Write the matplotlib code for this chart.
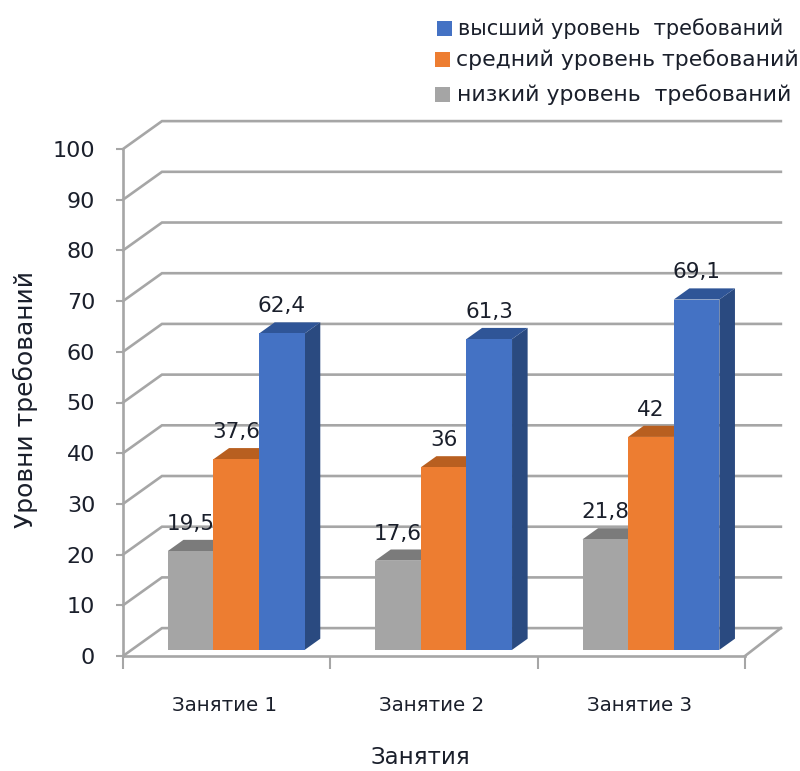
import numpy as np
from matplotlib import pyplot as plt
from matplotlib.patches import Polygon, Rectangle

categories = ['Занятие 1', 'Занятие 2', 'Занятие 3']
low_values = [19.5, 17.6, 21.8]
mid_values = [37.6, 36, 42]
high_values = [62.4, 61.3, 69.1]
low_labels = ['19,5', '17,6', '21,8']
mid_labels = ['37,6', '36', '42']
high_labels = ['62,4', '61,3', '69,1']
y_ticks = list(range(0, 101, 10))
legend_labels = ['высший уровень  требований', 'средний уровень требований', 'низкий уровень  требований']

GRID = '#a6a6a6'
TEXT = '#1a1f2b'
FONT = 'DejaVu Sans'

# oblique projection: full depth of the floor, in data units
DEPTH_X = 0.188
DEPTH_Y = 5.5
BAR_WIDTH = 0.22
BAR_FRONT = 0.22
BAR_BACK = 0.62


def project(x, y, d):
    return x + d * DEPTH_X, y + d * DEPTH_Y


def draw_bar(ax, x, value, front, top, side, label):
    x0, x1 = x - BAR_WIDTH / 2, x + BAR_WIDTH / 2
    fbl = project(x0, 0, BAR_FRONT)
    fbr = project(x1, 0, BAR_FRONT)
    ftl = project(x0, value, BAR_FRONT)
    ftr = project(x1, value, BAR_FRONT)
    btl = project(x0, value, BAR_BACK)
    btr = project(x1, value, BAR_BACK)
    bbr = project(x1, 0, BAR_BACK)
    ax.add_patch(Polygon([fbr, bbr, btr, ftr], color=side, lw=0, zorder=3, clip_on=False))
    ax.add_patch(Polygon([ftl, ftr, btr, btl], color=top, lw=0, zorder=3, clip_on=False))
    ax.add_patch(Polygon([fbl, fbr, ftr, ftl], color=front, lw=0, zorder=3, clip_on=False))
    ax.annotate(label, xy=((ftl[0] + ftr[0]) / 2, ftl[1]), xytext=(0, 19.5), textcoords='offset points',
                ha='center', va='center', fontsize=15.5, color=TEXT, family=FONT, zorder=5,
                annotation_clip=False)


fig = plt.figure(figsize=(8, 7.71), dpi=100)
ax = fig.add_axes([123 / 800, 1 - 656 / 771, 622 / 800, 507 / 771])
ax.set_xlim(0, 3)
ax.set_ylim(0, 100)

# back wall gridlines and their slanted returns on the side wall
for v in y_ticks:
    bx0, by0 = project(0, v, 1)
    bx1, by1 = project(2.985, v, 1)
    ax.plot([0, bx0, bx1], [v, by0, by1], color=GRID, lw=1.9, zorder=1, clip_on=False,
            solid_joinstyle='miter')

# right edge of the floor
ex, ey = project(2.985, 0, 1)
ax.plot([3, ex], [0, ey], color=GRID, lw=1.9, zorder=1, clip_on=False)

centers = np.arange(len(categories)) + 0.5
for i, c in enumerate(centers):
    c = c + 0.005
    draw_bar(ax, c - BAR_WIDTH, low_values[i], '#a5a5a5', '#7b7b7b', '#7b7b7b', low_labels[i])
    draw_bar(ax, c, mid_values[i], '#ed7d31', '#b85f20', '#b85f20', mid_labels[i])
    draw_bar(ax, c + BAR_WIDTH, high_values[i], '#4472c4', '#2f5597', '#2a4a80', high_labels[i])

for name in ['top', 'right']:
    ax.spines[name].set_visible(False)
for name in ['left', 'bottom']:
    ax.spines[name].set_color(GRID)
    ax.spines[name].set_linewidth(1.9)
    ax.spines[name].set_zorder(2)

ax.set_yticks(y_ticks)
ax.set_xticks(range(len(categories) + 1))
ax.set_xticklabels([])
ax.set_xticks(centers - 0.01, minor=True)
ax.set_xticklabels(categories, minor=True, fontsize=14.3, color=TEXT, family=FONT)
ax.tick_params(axis='x', which='major', length=9, width=1.5, color=GRID)
ax.tick_params(axis='x', which='minor', length=0, pad=28.5)
ax.tick_params(axis='y', length=5, width=1.5, color=GRID, labelsize=16, labelcolor=TEXT, pad=15)
for t in ax.get_yticklabels():
    t.set_family(FONT)

fig.text(25 / 800, 1 - 400 / 771, 'Уровни требований', rotation=90, ha='center', va='center',
         fontsize=18, color=TEXT, family=FONT)
fig.text(420 / 800, 1 - 758 / 771, 'Занятия', ha='center', va='center',
         fontsize=16.5, color=TEXT, family=FONT)

# legend rows are spaced by hand, the gaps are not even
legend_colors = ['#4472c4', '#ed7d31', '#a5a5a5']
legend_x = [437, 435, 435]
legend_text_x = [458, 456, 457]
legend_y = [29, 60, 95]
legend_size = [15.0, 15.8, 15.8]
for col, hx, tx, ly, lab, fs in zip(legend_colors, legend_x, legend_text_x, legend_y, legend_labels, legend_size):
    fig.add_artist(Rectangle((hx / 800, 1 - (ly + 7) / 771), 15 / 800, 15 / 771, color=col, lw=0,
                             transform=fig.transFigure))
    fig.text(tx / 800, 1 - ly / 771, lab, ha='left', va='center', fontsize=fs, color=TEXT, family=FONT)

fig.savefig('out.png', dpi=100)
